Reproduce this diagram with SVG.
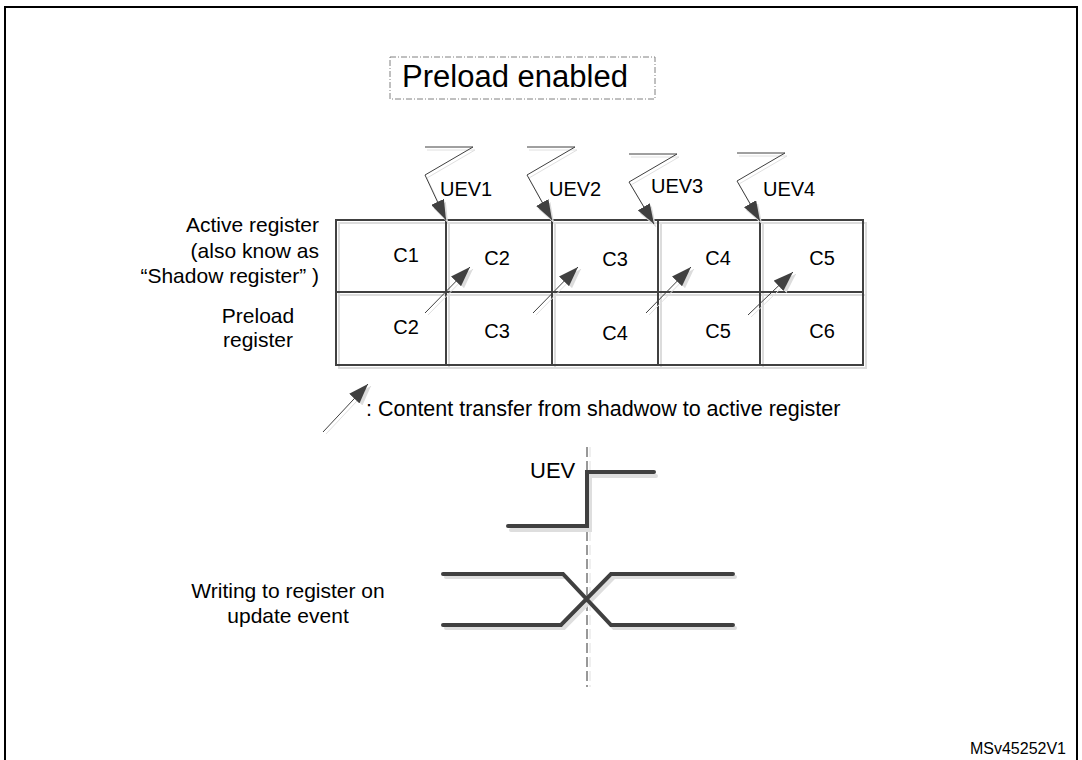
<svg xmlns="http://www.w3.org/2000/svg" width="1082" height="760" viewBox="0 0 1082 760">
<style>
text{font-family:"Liberation Sans",Arial,sans-serif;fill:#000}
.lbl{font-size:21px}
.cl{font-size:20px;text-anchor:middle}
.uev{font-size:20px}
.cell{fill:none;stroke:#404040;stroke-width:2}
.cellsh{fill:none;stroke:#dcdcdc;stroke-width:2}
.thin{fill:none;stroke:#404040;stroke-width:1}
.thinsh{fill:none;stroke:#e0e0e0;stroke-width:1}
.sig{fill:none;stroke:#404040;stroke-width:4;stroke-linecap:round;stroke-linejoin:miter}
.sigsh{fill:none;stroke:#dedede;stroke-width:4;stroke-linecap:round}
</style>
<defs>
<marker id="ah" markerUnits="userSpaceOnUse" markerWidth="20" markerHeight="14" refX="20" refY="7" orient="auto" viewBox="0 0 20 14"><path d="M0,0 L20,7 L0,14 z" fill="#404040"/></marker>
<marker id="ahs" markerUnits="userSpaceOnUse" markerWidth="20" markerHeight="14" refX="20" refY="7" orient="auto" viewBox="0 0 20 14"><path d="M0,0 L20,7 L0,14 z" fill="#dcdcdc"/></marker>
</defs>
<rect id="frame" x="5" y="7" width="1072" height="800" fill="#fff" stroke="#000" stroke-width="2"/>
<g id="title">
<rect x="390" y="57" width="265" height="42" fill="none" stroke="#808080" stroke-width="1" stroke-dasharray="6 2 1 2"/>
<text x="515" y="87" font-size="31" text-anchor="middle">Preload enabled</text>
</g>
<g id="left-labels" class="lbl">
<text x="319" y="232" text-anchor="end">Active register</text>
<text x="319" y="258" text-anchor="end">(also know as</text>
<text x="319" y="283" text-anchor="end">“Shadow register” )</text>
<text x="258" y="323" text-anchor="middle">Preload</text>
<text x="258" y="347" text-anchor="middle">register</text>
</g>
<g id="registers">
<g id="shadows">
<path class="cellsh" d="M339,223 H866 V368 H339 Z M339,295 H866 M449,223 V368 M555,223 V368 M661,223 V368 M763,223 V368"/>
</g>
<g id="active-row">
<rect id="a1" class="cell" x="336" y="220" width="110" height="72"/>
<rect id="a2" class="cell" x="446" y="220" width="106" height="72"/>
<rect id="a3" class="cell" x="552" y="220" width="106" height="72"/>
<rect id="a4" class="cell" x="658" y="220" width="102" height="72"/>
<rect id="a5" class="cell" x="760" y="220" width="103" height="72"/>
</g>
<g id="preload-row">
<rect id="p1" class="cell" x="336" y="292" width="110" height="73"/>
<rect id="p2" class="cell" x="446" y="292" width="106" height="73"/>
<rect id="p3" class="cell" x="552" y="292" width="106" height="73"/>
<rect id="p4" class="cell" x="658" y="292" width="102" height="73"/>
<rect id="p5" class="cell" x="760" y="292" width="103" height="73"/>
</g>
<g id="cell-labels" class="cl">
<text x="406" y="262">C1</text>
<text x="497" y="265">C2</text>
<text x="615" y="266">C3</text>
<text x="718" y="265">C4</text>
<text x="822" y="265">C5</text>
<text x="406" y="334">C2</text>
<text x="497" y="338">C3</text>
<text x="615" y="340">C4</text>
<text x="718" y="338">C5</text>
<text x="822" y="338">C6</text>
</g>
</g>
<g id="uev-labels" class="uev">
<text x="440" y="196">UEV1</text>
<text x="549" y="196">UEV2</text>
<text x="651" y="193">UEV3</text>
<text x="763" y="196">UEV4</text>
</g>
<g id="connectors">
<g id="uev-arrows-shadow">
<path class="thinsh" d="M427,150 H475 L427,178 L448,223" marker-end="url(#ahs)"/>
<path class="thinsh" d="M529,150 H577 L529,178 L554,223" marker-end="url(#ahs)"/>
<path class="thinsh" d="M631,157 H679 L631,185 L656,227" marker-end="url(#ahs)"/>
<path class="thinsh" d="M739,156 H787 L739,184 L762,224" marker-end="url(#ahs)"/>
</g>
<g id="uev-arrows">
<path class="thin" d="M425,147 H473 L425,175 L446,220" marker-end="url(#ah)"/>
<path class="thin" d="M527,147 H575 L527,175 L552,220" marker-end="url(#ah)"/>
<path class="thin" d="M629,154 H677 L629,182 L654,224" marker-end="url(#ah)"/>
<path class="thin" d="M737,153 H785 L737,181 L760,221" marker-end="url(#ah)"/>
</g>
<g id="transfer-arrows">
<line class="thinsh" x1="428" y1="315" x2="473" y2="269" marker-end="url(#ahs)"/>
<line class="thinsh" x1="536" y1="315" x2="581" y2="269" marker-end="url(#ahs)"/>
<line class="thinsh" x1="649" y1="315" x2="694" y2="269" marker-end="url(#ahs)"/>
<line class="thinsh" x1="751" y1="317" x2="796" y2="274" marker-end="url(#ahs)"/>
<line class="thin" x1="425" y1="313" x2="470" y2="267" marker-end="url(#ah)"/>
<line class="thin" x1="533" y1="313" x2="578" y2="267" marker-end="url(#ah)"/>
<line class="thin" x1="646" y1="313" x2="691" y2="267" marker-end="url(#ah)"/>
<line class="thin" x1="748" y1="315" x2="793" y2="272" marker-end="url(#ah)"/>
</g>
</g>
<g id="legend">
<line class="thinsh" x1="326" y1="434" x2="371" y2="386" marker-end="url(#ahs)"/>
<line class="thin" x1="323" y1="432" x2="368" y2="384" marker-end="url(#ah)"/>
<text x="366" y="416" font-size="21.5">: Content transfer from shadwow to active register</text>
</g>
<g id="timing">
<line x1="590" y1="447" x2="590" y2="687" stroke="#e0e0e0" stroke-width="1" stroke-dasharray="10 4"/>
<line x1="587" y1="447" x2="587" y2="687" stroke="#333" stroke-width="1" stroke-dasharray="10 4"/>
<g id="uev-signal">
<path class="sigsh" d="M511,530 H590 V476 H656"/>
<path class="sig" d="M508,526 H587 V472 H654"/>
<text x="530" y="478" font-size="22">UEV</text>
</g>
<g id="write-signal">
<path class="sigsh" d="M446,577 H566 L614,628 H735 M446,628 H564 L614,577 H735"/>
<path class="sig" d="M443,574 H563 L611,625 H733 M443,625 H561 L611,574 H733"/>
<text x="288" y="598" font-size="21" text-anchor="middle">Writing to register on</text>
<text x="288" y="623" font-size="21" text-anchor="middle">update event</text>
</g>
</g>
<text id="ref" x="1066" y="754" font-size="16" text-anchor="end">MSv45252V1</text>
</svg>
